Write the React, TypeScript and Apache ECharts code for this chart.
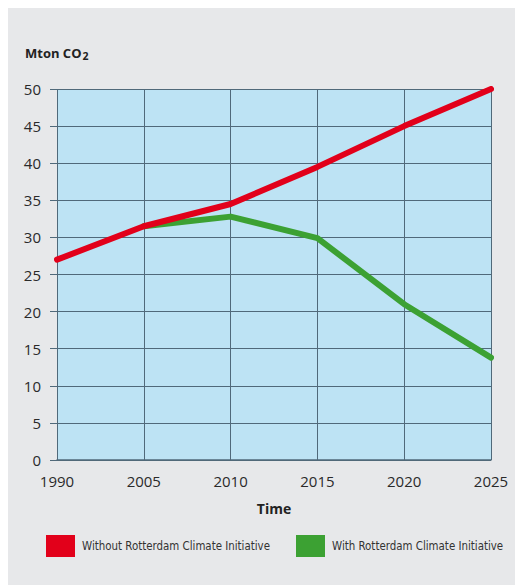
import React, { useEffect, useRef } from "react";
import * as echarts from "echarts";

// Years on the horizontal axis
const years = ["1990", "2005", "2010", "2015", "2020", "2025"];
// Emissions in Mton CO2 without the initiative
const withoutRCI = [27, 31.5, 34.5, 39.5, 45, 50];
// Emissions in Mton CO2 with the initiative (starts in 2005)
const withRCI = [null, 31.5, 32.8, 29.9, 21, 13.8];

const seriesNames = ["Without Rotterdam Climate Initiative", "With Rotterdam Climate Initiative"];

const RED = "#e2001a";
const GREEN = "#3ca133";
const GRID_LINE = "#50697a";
const LABEL_FONT = "'Open Sans', 'DejaVu Sans', sans-serif";
const LEGEND_FONT = "'Liberation Sans Narrow', 'DejaVu Sans Condensed', sans-serif";

const legendBase = {
  top: 527,
  padding: 0,
  itemWidth: 29,
  itemHeight: 22,
  icon: "rect",
  textStyle: { fontFamily: LEGEND_FONT, fontSize: 11.4, color: "#333", padding: [0, 0, 0, 2] },
};

export default function App() {
  const ref = useRef<HTMLDivElement>(null);

  useEffect(() => {
    if (!ref.current) return;
    const chart = echarts.init(ref.current, null, { renderer: "svg" });
    chart.setOption({
      animation: false,
      backgroundColor: "#e7e8ea",
      title: {
        text: "{a|Mton CO}{s|2}",
        left: 17,
        top: 37,
        padding: 0,
        textStyle: {
          rich: {
            a: { fontFamily: LABEL_FONT, fontWeight: "bold", fontSize: 13, color: "#222" },
            s: { fontFamily: LABEL_FONT, fontWeight: "bold", fontSize: 10.5, color: "#222", padding: [5, 0, 0, 1] },
          },
        },
      },
      grid: {
        left: 49,
        right: 32,
        top: 81,
        bottom: 125,
        show: true,
        backgroundColor: "#bde3f4",
        borderWidth: 0,
      },
      legend: [
        { ...legendBase, data: [seriesNames[0]], left: 38 },
        { ...legendBase, data: [seriesNames[1]], left: 288 },
      ],
      xAxis: {
        type: "category",
        data: years,
        boundaryGap: false,
        name: "Time",
        nameLocation: "middle",
        nameGap: 41,
        nameTextStyle: { fontFamily: LABEL_FONT, fontWeight: "bold", fontSize: 14, color: "#222" },
        axisLine: { lineStyle: { color: GRID_LINE, width: 1.5 } },
        axisTick: { show: false },
        axisLabel: { fontFamily: LABEL_FONT, fontSize: 15, color: "#2a2a2a", margin: 13 },
        splitLine: { show: true, lineStyle: { color: GRID_LINE, width: 1 } },
      },
      yAxis: {
        type: "value",
        min: 0,
        max: 50,
        interval: 5,
        axisLine: { show: false },
        axisTick: { show: true, length: 7, lineStyle: { color: GRID_LINE, width: 1 } },
        axisLabel: { fontFamily: LABEL_FONT, fontSize: 15, color: "#2a2a2a", margin: 16 },
        splitLine: { show: true, lineStyle: { color: GRID_LINE, width: 1 } },
      },
      series: [
        {
          name: seriesNames[1],
          type: "line",
          data: withRCI,
          showSymbol: false,
          symbol: "none",
          itemStyle: { color: GREEN },
          lineStyle: { color: GREEN, width: 6, cap: "round", join: "round" },
          z: 3,
        },
        {
          name: seriesNames[0],
          type: "line",
          data: withoutRCI,
          showSymbol: false,
          symbol: "none",
          itemStyle: { color: RED },
          lineStyle: { color: RED, width: 6, cap: "round", join: "round" },
          z: 4,
        },
      ],
    });
    return () => chart.dispose();
  }, []);

  return <div ref={ref} style={{ width: 515, height: 577 }} />;
}
